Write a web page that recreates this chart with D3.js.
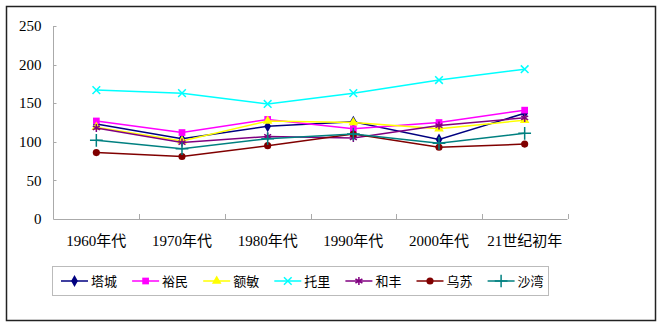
<!DOCTYPE html>
<html><head><meta charset="utf-8">
<script src="https://cdn.jsdelivr.net/npm/d3@7"></script>
<style>
html,body{margin:0;padding:0;background:#fff;}
svg{display:block;}
text{font-family:"Liberation Serif","Noto Sans CJK SC",serif;fill:#000;}
</style></head>
<body><svg id="c" width="661" height="327"></svg>
<script>
const categories = ["1960年代","1970年代","1980年代","1990年代","2000年代","21世纪初年"];
const seriesNames = ["塔城","裕民","额敏","托里","和丰","乌苏","沙湾"];
const tacheng = [123,104,120,126,103,137];
const yumin   = [127,112,129,117,125,141];
const emin    = [119,101,127,125,117,128];
const tuoli   = [167,163,149,163,180,194];
const hefeng  = [118,99,107,105,121,131];
const wusu    = [86,81,95,110,93,97];
const shawan  = [102,91,104,110,98,111];
const yTicks = [0,50,100,150,200,250];
const colors = ["#000080","#FF00FF","#FFFF00","#00FFFF","#800080","#800000","#008080"];
const values = [tacheng,yumin,emin,tuoli,hefeng,wusu,shawan];

const svg = d3.select("#c");
svg.append("rect").attr("x",6.5).attr("y",6.5).attr("width",649).attr("height",314)
  .attr("fill","#fff").attr("stroke","#222").attr("stroke-width",1.5);

const x0 = 53.5, x1 = 567.5, yTop = 26, yBot = 219;
const xBand = d3.scaleBand().domain(categories).range([x0,x1]);
const y = d3.scaleLinear().domain([0,250]).range([yBot,yTop]);
const cx = c => xBand(c) + xBand.bandwidth()/2;

// y axis
const gy = svg.append("g").attr("transform",`translate(${x0},0)`);
gy.append("line").attr("y1",y(0)).attr("y2",y(250)).attr("stroke","#aaa");
gy.selectAll(".t").data(yTicks).enter().append("line")
  .attr("x1",0).attr("x2",3).attr("y1",d=>Math.round(y(d))+0.5).attr("y2",d=>Math.round(y(d))+0.5).attr("stroke","#aaa");
gy.selectAll(".l").data(yTicks).enter().append("text")
  .attr("x",-12).attr("y",d=>y(d)).attr("dy","0.35em").attr("text-anchor","end")
  .attr("font-size",15).text(d=>d);

// x axis
const gx = svg.append("g");
gx.append("line").attr("x1",x0).attr("x2",x1).attr("y1",yBot+0.5).attr("y2",yBot+0.5).attr("stroke","#aaa");
const bounds = categories.map(c=>xBand(c)+xBand.bandwidth()).concat([]);
gx.selectAll(".t").data(bounds).enter().append("line")
  .attr("x1",d=>Math.round(d)+0.5).attr("x2",d=>Math.round(d)+0.5).attr("y1",yBot).attr("y2",yBot-5).attr("stroke","#aaa");
gx.selectAll(".l").data(categories).enter().append("text")
  .attr("x",d=>cx(d)).attr("y",241).attr("dy","0.35em").attr("text-anchor","middle")
  .attr("font-size",15).text(d=>d);

const symTypes = [d3.symbolDiamond,d3.symbolSquare,d3.symbolTriangle,d3.symbolTimes,d3.symbolAsterisk,d3.symbolCircle,d3.symbolPlus];
const symSizes = [40,45,40,40,45,40,55];
const stroked = [false,false,false,true,true,false,true];

function drawMarker(g, i, px, py){
  const p = d3.symbol().type(symTypes[i]).size(symSizes[i])();
  const m = g.append("path").attr("d",p).attr("transform",`translate(${px},${py})`);
  if(stroked[i]) m.attr("fill","none").attr("stroke",colors[i]).attr("stroke-width",1.5);
  else m.attr("fill",colors[i]).attr("stroke","none");
}

const line = d3.line().x((d,j)=>cx(categories[j])).y(d=>y(d));
values.forEach((vals,i)=>{
  const g = svg.append("g");
  g.append("path").datum(vals).attr("d",line).attr("fill","none")
    .attr("stroke",colors[i]).attr("stroke-width",1.5);
  vals.forEach((v,j)=>drawMarker(g,i,cx(categories[j]),y(v)));
});

// legend
svg.append("rect").attr("x",52.5).attr("y",266.5).attr("width",496).attr("height",29)
  .attr("fill","#fff").attr("stroke","#bbb");
const lg = svg.append("g");
seriesNames.forEach((n,i)=>{
  const lx = 61 + i*71.1, ly = 281;
  lg.append("line").attr("x1",lx).attr("x2",lx+27).attr("y1",ly).attr("y2",ly)
    .attr("stroke",colors[i]).attr("stroke-width",1.5);
  drawMarker(lg,i,lx+13.5,ly);
  lg.append("text").attr("x",lx+30).attr("y",ly).attr("dy","0.35em")
    .attr("font-size",13).text(n);
});
</script></body></html>
